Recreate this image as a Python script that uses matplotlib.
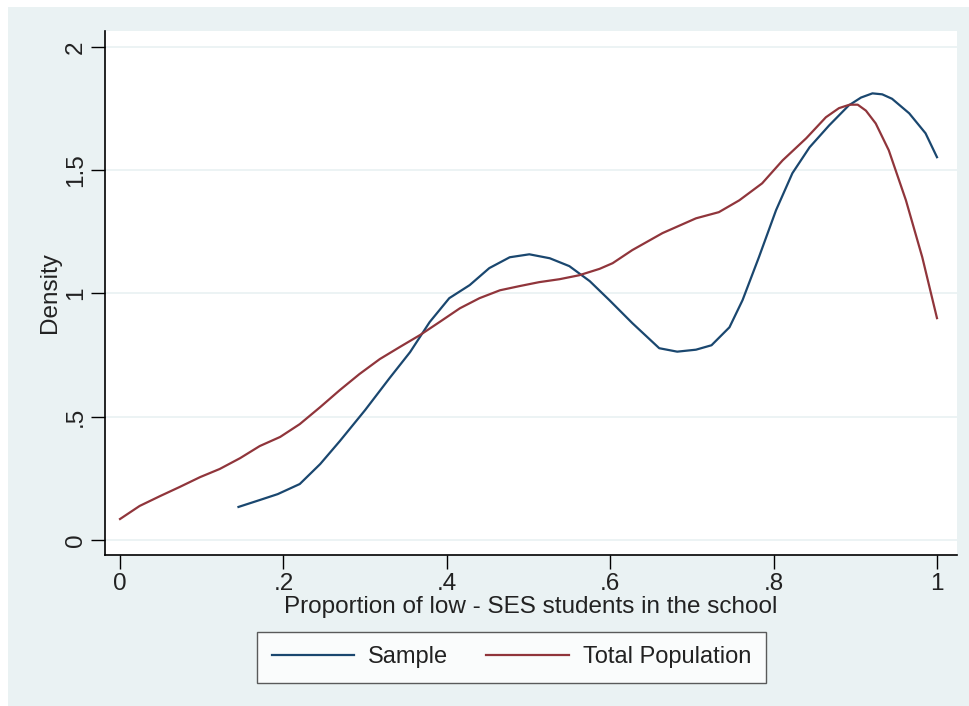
import matplotlib
matplotlib.use("Agg")
import matplotlib.pyplot as plt
from matplotlib.patches import Rectangle
from matplotlib.lines import Line2D

# ---- data ----
sample_x = [0.145, 0.171, 0.193, 0.220, 0.245, 0.269, 0.300, 0.330, 0.355, 0.379,
            0.403, 0.428, 0.452, 0.477, 0.501, 0.526, 0.550, 0.575, 0.599, 0.627,
            0.660, 0.682, 0.705, 0.724, 0.746, 0.762, 0.782, 0.803, 0.823, 0.844,
            0.868, 0.892, 0.907, 0.921, 0.933, 0.945, 0.966, 0.986, 1.000]
sample_y = [0.134, 0.162, 0.186, 0.227, 0.308, 0.401, 0.527, 0.657, 0.762, 0.884,
            0.981, 1.034, 1.103, 1.147, 1.159, 1.143, 1.111, 1.050, 0.973, 0.880,
            0.778, 0.764, 0.772, 0.790, 0.863, 0.973, 1.147, 1.338, 1.488, 1.593,
            1.682, 1.763, 1.795, 1.812, 1.808, 1.790, 1.731, 1.650, 1.553]

pop_x = [0.000, 0.024, 0.049, 0.073, 0.098, 0.122, 0.147, 0.171, 0.196, 0.220,
         0.245, 0.269, 0.293, 0.318, 0.342, 0.367, 0.391, 0.416, 0.440, 0.465,
         0.489, 0.513, 0.538, 0.562, 0.587, 0.603, 0.627, 0.664, 0.705, 0.733,
         0.758, 0.786, 0.811, 0.840, 0.864, 0.880, 0.893, 0.903, 0.913, 0.925,
         0.941, 0.962, 0.982, 1.000]
pop_y = [0.085, 0.138, 0.178, 0.215, 0.255, 0.288, 0.332, 0.381, 0.418, 0.470,
         0.539, 0.608, 0.673, 0.734, 0.782, 0.831, 0.884, 0.940, 0.981, 1.013,
         1.030, 1.046, 1.058, 1.074, 1.100, 1.123, 1.176, 1.245, 1.305, 1.330,
         1.378, 1.447, 1.540, 1.630, 1.715, 1.752, 1.766, 1.766, 1.742, 1.690,
         1.581, 1.378, 1.147, 0.900]

x_ticks = [0, 0.2, 0.4, 0.6, 0.8, 1.0]
x_labels = ["0", ".2", ".4", ".6", ".8", "1"]
y_ticks = [0, 0.5, 1.0, 1.5, 2.0]
y_labels = ["0", ".5", "1", "1.5", "2"]
series_names = ["Sample", "Total Population"]

NAVY = "#1A476F"
MAROON = "#90353B"
BG = "#EAF2F3"
TXT = "#222222"
FS = 17.5

plt.rcParams['font.family'] = ['Liberation Sans', 'DejaVu Sans']

W, H = 969, 706
fig = plt.figure(figsize=(W / 100, H / 100), dpi=100)
fig.patch.set_facecolor("white")
fig.patches.append(Rectangle((8 / W, 0), 1 - 8 / W, 1 - 7 / H, transform=fig.transFigure,
                             facecolor=BG, edgecolor="none", zorder=-10))

left, right, top, bottom = 105, 957, 31, 555
ax = fig.add_axes([left / W, 1 - bottom / H, (right - left) / W, (bottom - top) / H])
ax.set_facecolor("white")

ax.plot(sample_x, sample_y, color=NAVY, lw=1.6, solid_joinstyle="round")
ax.plot(pop_x, pop_y, color=MAROON, lw=1.6, solid_joinstyle="round")

ax.set_xlim(-0.0184, 1.0245)
ax.set_ylim(-0.061, 2.065)
ax.set_xticks(x_ticks)
ax.set_xticklabels(x_labels)
ax.set_yticks(y_ticks)
ax.set_yticklabels(y_labels, rotation=90, va="center")
ax.tick_params(axis="both", direction="out", length=10, width=1, color="black",
               labelsize=FS, labelcolor=TXT)
ax.tick_params(axis="x", pad=3)
ax.tick_params(axis="y", pad=3)
ax.grid(axis="y", color=BG, lw=1.3)
ax.set_axisbelow(True)
for s in ["top", "right"]:
    ax.spines[s].set_visible(False)
for s in ["left", "bottom"]:
    ax.spines[s].set_color("black")
    ax.spines[s].set_linewidth(1.2)

ax.set_xlabel("Proportion of low - SES students in the school", fontsize=FS,
              color=TXT, labelpad=1)
ax.set_ylabel("Density", fontsize=FS, color=TXT, labelpad=3)

handles = [Line2D([], [], color=NAVY, lw=1.6), Line2D([], [], color=MAROON, lw=1.6)]
leg = fig.legend(handles, series_names, loc="center", ncol=2,
                 bbox_to_anchor=(511.5 / W, 1 - 657.5 / H), fontsize=17,
                 frameon=True, fancybox=False, edgecolor="#333333",
                 handlelength=3.5, handletextpad=0.6, columnspacing=1.6,
                 borderpad=0.6, borderaxespad=0)
leg.get_frame().set_linewidth(1.0)
for t in leg.get_texts():
    t.set_color(TXT)

fig.savefig("out.png", dpi=100, facecolor=fig.get_facecolor())
